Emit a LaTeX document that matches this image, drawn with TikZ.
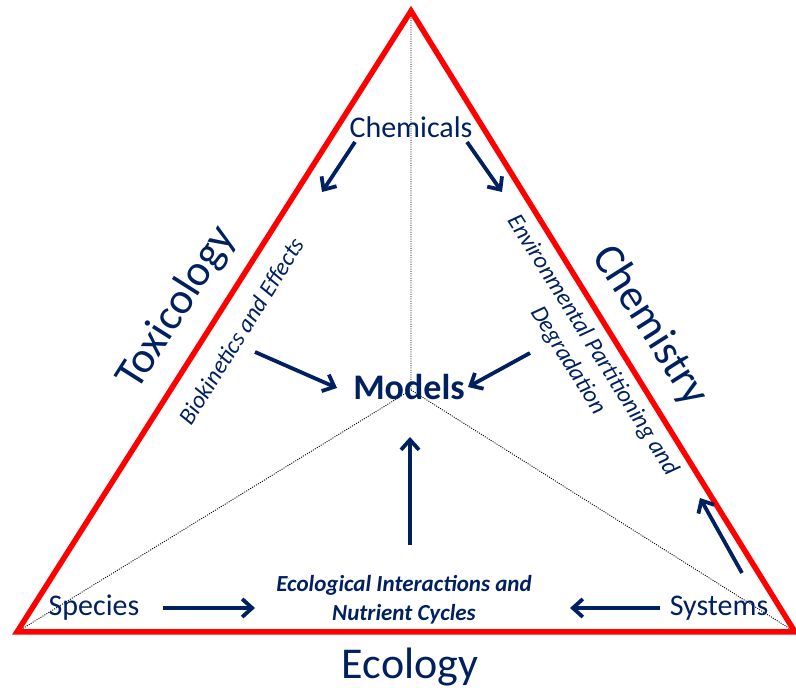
\documentclass[tikz,border=0pt]{standalone}
\usepackage{fontspec}
\setmainfont{Carlito}
\usepackage{tikz}
\usetikzlibrary{arrows.meta}

\definecolor{navy}{RGB}{0,32,96}
\definecolor{edgered}{RGB}{255,0,0}

\tikzset{
  flow/.style={navy,line width=3.8pt,-{Straight Barb[length=10pt,width=18pt]}},
  guide/.style={black,line width=0.9pt,dash pattern=on 1pt off 1.3pt},
  field/.style={navy,font=\fontsize{44}{50}\selectfont},
  topic/.style={navy,font=\fontsize{30}{34}\selectfont},
  process/.style={navy,align=center,font=\itshape\fontsize{24}{29}\selectfont},
}

\begin{document}
\begin{tikzpicture}[x=1pt,y=1pt]
            \useasboundingbox (0,0) rectangle (796,688);
            \coordinate (top) at (411,677);
            \coordinate (left) at (17,56);
            \coordinate (right) at (795,56);
            \coordinate (mid) at (411,298);

            \draw[guide] (top)--(mid) (left)--(mid)--(right);
            \draw[edgered,line width=5.5pt] (top)--(left)--(right)--cycle;

            \node[topic] (chem) at (411,561) {Chemicals};
            \node[topic] (spec) at (94,80) {Species};
            \node[topic] (syst) at (719,80) {Systems};
            \node[navy,font=\bfseries\fontsize{36}{40}\selectfont] (models) at (409,301) {Models};

            \node[field,rotate=57.6] (tox) at (177,380) {Toxicology};
            \node[field,rotate=-57.6] (chy) at (650,362) {Chemistry};
            \node[field] (eco) at (410,21) {Ecology};

            \node[process,rotate=58] (bio) at (241,357) {Biokinetics and Effects};
            \node[process,rotate=-58] (env) at (580,335) {Environmental Partitioning and\\Degradation};
            \node[process,font=\bfseries\itshape\fontsize{23}{29}\selectfont] (inter) at (404,88) {Ecological Interactions and\\Nutrient Cycles};

            % arrow ends
            \coordinate (chemL) at (355,546);  \coordinate (bioT) at (322,496);
            \coordinate (chemR) at (467,546);  \coordinate (envT) at (502,496);
            \coordinate (bioM) at (255,336);   \coordinate (modL) at (337,300);
            \coordinate (envM) at (530,335);   \coordinate (modR) at (468,301);
            \coordinate (interT) at (410,143); \coordinate (modB) at (410,251);
            \coordinate (specR) at (163,80);   \coordinate (interL) at (255,80);
            \coordinate (systL) at (660,80);   \coordinate (interR) at (570,80);
            \coordinate (systT) at (742,115);  \coordinate (envB) at (700,190);

            \draw[flow] (chemL)--(bioT);
            \draw[flow] (chemR)--(envT);
            \draw[flow] (bioM)--(modL);
            \draw[flow] (envM)--(modR);
            \draw[flow] (interT)--(modB);
            \draw[flow] (specR)--(interL);
            \draw[flow] (systL)--(interR);
            \draw[flow] (systT)--(envB);
        \end{tikzpicture}
\end{document}
